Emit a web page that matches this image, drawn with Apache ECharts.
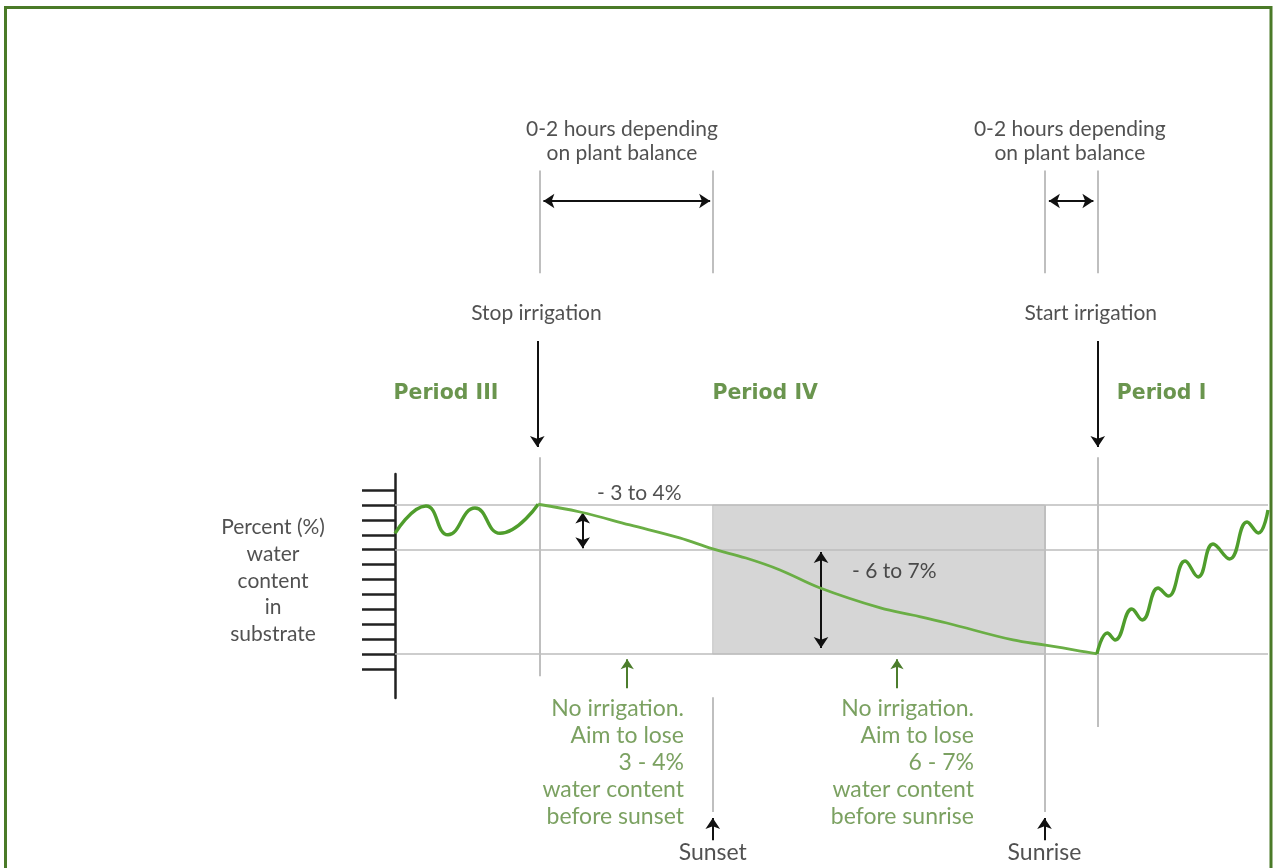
<!DOCTYPE html>
<html><head><meta charset="utf-8">
<script src="https://cdn.jsdelivr.net/npm/echarts@6/dist/echarts.min.js"></script>
<style>html,body{margin:0;padding:0;background:#fff}#c{width:1274px;height:868px}</style>
</head><body><div id="c"></div>
<script>
// ---------------- data ----------------
// y unit: % water content in substrate (relative, 1 % per tick); x unit: schematic time
const tickValues = [-1,0,1,2,3,4,5,6,7,8,9,10,11];
const levelLines = [10, 7, 0];            // peak level, target at sunset, target at sunrise
const eventNames = ['Stop irrigation','Sunset','Sunrise','Start irrigation'];
const eventTimes = [16.6, 36.4, 74.4, 80.5];
const periodNames = ['Period III','Period IV','Period I'];
const periodCentres = [5.84, 42.4, 87.8];
const periodIIIWater = [[0,8.1],[3.55,9.93],[6.07,8.0],[9.16,9.8],[12.03,8.1],[16.4,10.05]];
const periodIVWater = [[16.4,10.05],[21.2,9.53],[26.9,8.66],[32.6,7.79],[36.4,7.05],[40.2,6.44],[44.1,5.64],[48.7,4.43],[55.6,3.09],[59.4,2.6],[63.2,2.08],[70.8,0.94],[74.5,0.6],[78.5,0.2],[80.4,0]];
const periodIWater = [[80.4,0],[81.6,1.41],[82.5,0.94],[84.4,3.02],[85.6,2.28],[87.4,4.43],[88.6,3.89],[90.5,6.24],[92.0,5.17],[93.7,7.38],[95.6,6.38],[97.6,8.86],[98.9,8.12],[100,9.66]];
const lossLabels = ['- 3 to 4%', '- 6 to 7%'];
const lossArrows = [[21.5, 9.5, 7.1], [48.8, 6.85, 0.4]];   // x, from, to
const windowNote = '0-2 hours depending\non plant balance';
const aimNotes = ['No irrigation.\nAim to lose\n3 - 4%\nwater content\nbefore sunset',
                  'No irrigation.\nAim to lose\n6 - 7%\nwater content\nbefore sunrise'];
const yAxisTitle = 'Percent (%)\nwater\ncontent\nin\nsubstrate';

// ---------------- layout ----------------
const W = 1274, H = 868;
const PX_X = 8.73, PX_Y = 14.9;
const MAIN = {left: 395, top: 474, xMin: 0, xMax: 100, yMin: -2.95, yMax: 12.08};
const FULL = {
  xMin: -MAIN.left / PX_X, xMax: (W - MAIN.left) / PX_X,
  yMax: MAIN.yMax + MAIN.top / PX_Y
};
FULL.yMin = FULL.yMax - H / PX_Y;
const ROW = {note: 34.43, bracketTop: 32.45, bracketBottom: 25.55, bracket: 30.4,
  eventLabel: 22.9, arrowTop: 21.0, arrowTip: 13.9, period: 17.5, markTop: 13.2,
  lossLabel3: 10.8, lossLabel6: 5.57, aimCentre: -7.28, greenArrowBottom: -2.3, greenArrowTip: -0.35,
  sunTop: -2.9, sunLineBottom: -10.6, sunArrowBottom: -12.5, sunArrowTip: -11.0, sunLabel: -13.3,
  titleCentre: 4.9};

const TEXT = '#262626', GREEN_BOLD = '#457a22', GREEN_TEXT = '#5a8a3a', GREY = '#bfbfbf';
const FONT = 'Lato';

function txt(x, y, s, style) {
  return {value: [x, y], label: Object.assign({show: true, formatter: s, position: [0, 0],
    align: 'center', verticalAlign: 'middle', color: TEXT, fontFamily: FONT, fontSize: 21}, style)};
}
const [tStop, tSunset, tSunrise, tStart] = eventTimes;

const texts = [
  txt(26.0, ROW.note, windowNote, {lineHeight: 24}),
  txt(77.3, ROW.note, windowNote, {lineHeight: 24}),
  txt(16.2, ROW.eventLabel, eventNames[0]),
  txt(79.7, ROW.eventLabel, eventNames[3]),
  txt(-13.97, ROW.titleCentre, yAxisTitle, {lineHeight: 26.7}),
  txt(23.14, ROW.lossLabel3, lossLabels[0], {align: 'left'}),
  txt(52.35, ROW.lossLabel6, lossLabels[1], {align: 'left'}),
  txt(33.1, ROW.aimCentre, aimNotes[0], {align: 'right', color: GREEN_TEXT, fontSize: 23, lineHeight: 27}),
  txt(66.32, ROW.aimCentre, aimNotes[1], {align: 'right', color: GREEN_TEXT, fontSize: 23, lineHeight: 27}),
  txt(tSunset, ROW.sunLabel, eventNames[1], {fontSize: 23}),
  txt(tSunrise, ROW.sunLabel, eventNames[2], {fontSize: 23})
].concat(periodNames.map((p, i) => txt(periodCentres[i], ROW.period, p,
  {fontFamily: 'DejaVu Sans', fontWeight: 'bold', fontSize: 20.5, color: GREEN_BOLD})));

const greySegments = eventTimes.map(t => ({coords: [[t, ROW.bracketTop], [t, ROW.bracketBottom]]})).concat([
  {coords: [[tStop, ROW.markTop], [tStop, -1.5]]},
  {coords: [[tSunset, ROW.sunTop], [tSunset, ROW.sunLineBottom]]},
  {coords: [[tSunrise, levelLines[0]], [tSunrise, ROW.sunLineBottom]]},
  {coords: [[tStart, ROW.markTop], [tStart, -4.9]]}
]);
const doubleArrows = [
  {coords: [[tStop + 0.4, ROW.bracket], [tSunset - 0.3, ROW.bracket]]},
  {coords: [[tSunrise + 0.5, ROW.bracket], [tStart - 0.5, ROW.bracket]]}
].concat(lossArrows.map(a => ({coords: [[a[0], a[1]], [a[0], a[2]]]})));
const downArrows = [
  {coords: [[tStop - 0.3, ROW.arrowTop], [tStop - 0.3, ROW.arrowTip]]},
  {coords: [[tStart, ROW.arrowTop], [tStart, ROW.arrowTip]]},
  {coords: [[tSunset, ROW.sunArrowBottom], [tSunset, ROW.sunArrowTip]]},
  {coords: [[tSunrise, ROW.sunArrowBottom], [tSunrise, ROW.sunArrowTip]]}
];
const greenArrows = [26.6, 57.5].map(x => ({coords: [[x, ROW.greenArrowBottom], [x, ROW.greenArrowTip]]}));
const levelSegments = levelLines.map(v => ({coords: [[MAIN.xMin, v], [MAIN.xMax, v]]}));

const chart = echarts.init(document.getElementById('c'), null, {renderer: 'canvas'});
chart.setOption({
  animation: false,
  backgroundColor: '#fff',
  graphic: [{type: 'rect', silent: true, z: 100,
    shape: {x: 5.5, y: 7.5, width: 1265.5, height: 900},
    style: {fill: 'none', stroke: '#4a7a28', lineWidth: 3}}],
  grid: [
    {left: 0, top: 0, width: W, height: H},
    {left: MAIN.left, top: MAIN.top, width: (MAIN.xMax - MAIN.xMin) * PX_X, height: (MAIN.yMax - MAIN.yMin) * PX_Y}
  ],
  xAxis: [
    {gridIndex: 0, type: 'value', min: FULL.xMin, max: FULL.xMax, show: false},
    {gridIndex: 1, type: 'value', min: MAIN.xMin, max: MAIN.xMax, show: false}
  ],
  yAxis: [
    {gridIndex: 0, type: 'value', min: FULL.yMin, max: FULL.yMax, show: false},
    {gridIndex: 1, type: 'value', min: MAIN.yMin, max: MAIN.yMax, position: 'left',
      axisLine: {show: true, onZero: false, lineStyle: {color: '#222', width: 2.5}},
      axisTick: {show: true, customValues: tickValues, length: 33, lineStyle: {color: '#222', width: 2.5}},
      axisLabel: {show: false}, splitLine: {show: false}}
  ],
  series: [
    {type: 'line', xAxisIndex: 1, yAxisIndex: 1, data: [], silent: true, z: 1,
      markArea: {silent: true, itemStyle: {color: '#d6d6d6', borderColor: '#c4c4c4', borderWidth: 1},
        data: [[{coord: [tSunset, levelLines[2]]}, {coord: [tSunrise, levelLines[0]]}]]}},
    {type: 'lines', coordinateSystem: 'cartesian2d', xAxisIndex: 1, yAxisIndex: 1, z: 2, silent: true,
      clip: false, symbol: 'none', lineStyle: {color: '#bcbcbc', width: 1.6, opacity: 1}, data: levelSegments},
    {type: 'lines', coordinateSystem: 'cartesian2d', xAxisIndex: 0, yAxisIndex: 0, z: 2, silent: true,
      clip: false, symbol: 'none', lineStyle: {color: GREY, width: 2, opacity: 1}, data: greySegments},
    {type: 'lines', coordinateSystem: 'cartesian2d', xAxisIndex: 0, yAxisIndex: 0, z: 5, silent: true,
      clip: false, symbol: ['arrow', 'arrow'], symbolSize: 11, lineStyle: {color: '#111', width: 2, opacity: 1}, data: doubleArrows},
    {type: 'lines', coordinateSystem: 'cartesian2d', xAxisIndex: 0, yAxisIndex: 0, z: 5, silent: true,
      clip: false, symbol: ['none', 'arrow'], symbolSize: 11, lineStyle: {color: '#111', width: 2, opacity: 1}, data: downArrows},
    {type: 'lines', coordinateSystem: 'cartesian2d', xAxisIndex: 0, yAxisIndex: 0, z: 5, silent: true,
      clip: false, symbol: ['none', 'arrow'], symbolSize: 10, lineStyle: {color: '#4c7d2c', width: 2, opacity: 1}, data: greenArrows},
    {type: 'line', xAxisIndex: 1, yAxisIndex: 1, z: 6, data: periodIIIWater, smooth: 0.5, showSymbol: false, clip: false,
      lineStyle: {color: '#4f9d2c', width: 3.4}, silent: true},
    {type: 'line', xAxisIndex: 1, yAxisIndex: 1, z: 6, data: periodIVWater, smooth: 0.4, showSymbol: false, clip: false,
      lineStyle: {color: '#6aae45', width: 2.8}, silent: true},
    {type: 'line', xAxisIndex: 1, yAxisIndex: 1, z: 6, data: periodIWater, smooth: 0.45, showSymbol: false, clip: false,
      lineStyle: {color: '#4f9d2c', width: 3.4}, silent: true},
    {type: 'scatter', xAxisIndex: 0, yAxisIndex: 0, z: 8, symbolSize: 0, silent: true, clip: false, data: texts}
  ]
});
</script></body></html>
